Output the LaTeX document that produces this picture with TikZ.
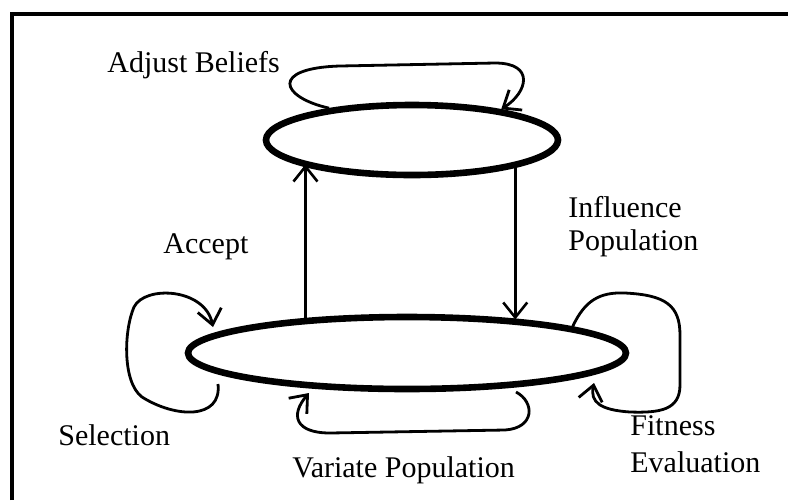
\documentclass[tikz,border=0pt]{standalone}
\usepackage{fontspec}
\setmainfont{Liberation Serif}
\usetikzlibrary{shapes.geometric,arrows.meta}
\begin{document}
\begin{tikzpicture}[x=0.5pt,y=-0.5pt,
  state/.style={draw,ellipse,line width=3.3pt,inner sep=0pt},
  arr/.style={line width=1.3pt,-{Straight Barb[length=7.5pt,width=12pt]}},
  selfloop/.style={line width=1.4pt,-{Straight Barb[length=7.5pt,width=12pt]}},
  lbl/.style={anchor=base west,inner sep=0pt,font=\fontsize{15}{18}\selectfont}]
\useasboundingbox (0,0) rectangle (788,500);
\draw[line width=2pt] (12,500) -- (12,14) -- (788,14);

\node[state,minimum width=146pt,minimum height=35pt] (top) at (412,140) {};
\node[state,minimum width=219pt,minimum height=36pt] (bot) at (407,353) {};

% vertical connectors
\draw[arr] (bot.161.3) -- (bot.161.3 |- top.192.5);
\draw[arr] (top.345.8) -- (top.345.8 |- bot.16.2);

% loop coordinates
\coordinate (s0) at (218,384);
\coordinate (s1) at (213,327);
\coordinate (f1) at (594,383);
\coordinate (v0) at (516,392);
\coordinate (v1) at (309,393);

% Adjust Beliefs loop
\draw[selfloop] (top.159.6) .. controls (280,97) and (270,68) .. (340,66)
  -- (495,63) .. controls (535,63) and (528,92) .. (top.19);
% Selection loop
\draw[selfloop] (s0) .. controls (222,420) and (175,418) .. (142,397)
  .. controls (122,382) and (124,330) .. (134,307)
  .. controls (145,285) and (205,288) .. (s1);
% Fitness loop
\draw[selfloop] (bot.9) .. controls (585,300) and (600,292) .. (625,293)
  .. controls (665,295) and (680,305) .. (680,335) -- (680,385)
  .. controls (680,410) and (660,413) .. (630,412)
  .. controls (600,410) and (590,402) .. (f1);
% Variate loop
\draw[selfloop] (v0) .. controls (535,402) and (535,428) .. (505,430)
  -- (330,433) .. controls (295,433) and (290,415) .. (v1);

% labels
\node[lbl] (lab) at (107,72) {Adjust Beliefs};
\node[lbl] (lacc) at (163,253) {Accept};
\node[lbl] (linf1) at (568,217) {Influence};
\node[lbl] (linf2) at (568,250) {Population};
\node[lbl] (lsel) at (58,445) {Selection};
\node[lbl] (lvar) at (292,477) {Variate Population};
\node[lbl] (lfit1) at (630,435) {Fitness};
\node[lbl] (lfit2) at (630,472) {Evaluation};
\end{tikzpicture}
\end{document}
